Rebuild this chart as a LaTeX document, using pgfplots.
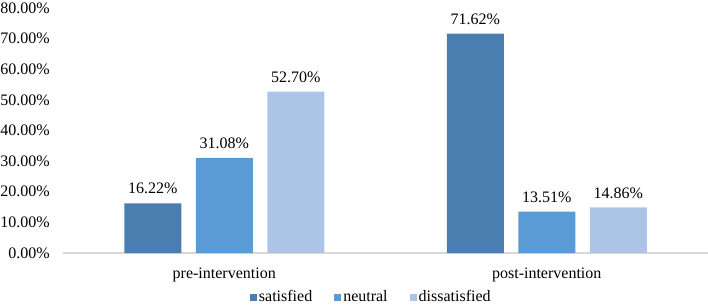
\documentclass[border=0pt]{standalone}
\usepackage{pgfplots}
\pgfplotsset{compat=1.18}
\usepackage{fontspec}
\setmainfont{Liberation Serif}
\definecolor{csat}{RGB}{74,126,176}
\definecolor{cneu}{RGB}{91,155,213}
\definecolor{cdis}{RGB}{172,197,230}
\begin{document}
\begin{tikzpicture}[font=\fontsize{16pt}{19pt}\selectfont]
\begin{axis}[
  at={(0,0)}, anchor=south west,
  scale only axis,
  width=645pt, height=245pt,
  ybar=14.5pt, bar width=57pt,
  xmin=-0.5, xmax=1.5, ymin=0, ymax=80,
  enlargelimits=false,
  xtick={0,1}, xticklabels={pre-intervention,post-intervention},
  ytick={0,10,...,80},
  /pgf/number format/assume math mode=true,
  yticklabel={\pgfmathprintnumber[fixed,fixed zerofill,precision=2]{\tick}\%},
  major tick length=0pt,
  axis x line*=bottom, axis y line*=left,
  x axis line style={draw=black!15, line width=1.2pt, -},
  y axis line style={draw=none},
  yticklabel style={inner sep=0pt, xshift=-13pt},
  xticklabel style={inner sep=0pt, yshift=-15pt},
  nodes near coords={\pgfmathprintnumber[fixed,fixed zerofill,precision=2]{\pgfplotspointmeta}\%},
  nodes near coords style={anchor=south, inner sep=0pt, yshift=9pt, text=black},
  legend columns=3,
  legend style={draw=none, at={(0.478,-0.18)}, anchor=center, inner sep=0pt,
    nodes={inner sep=2pt},
    /tikz/every even column/.append style={column sep=20pt}},
  legend image code/.code={\fill[#1] (0pt,-3.5pt) rectangle (7pt,3.5pt);},
]
\addplot[fill=csat, draw=none] coordinates {(0,16.22) (1,71.62)};
\addplot[fill=cneu, draw=none] coordinates {(0,31.08) (1,13.51)};
\addplot[fill=cdis, draw=none] coordinates {(0,52.70) (1,14.86)};
\legend{satisfied,neutral,dissatisfied}
\end{axis}
\pgfresetboundingbox
\path (-63pt,-52pt) rectangle (645pt,253pt);
\end{tikzpicture}
\end{document}
